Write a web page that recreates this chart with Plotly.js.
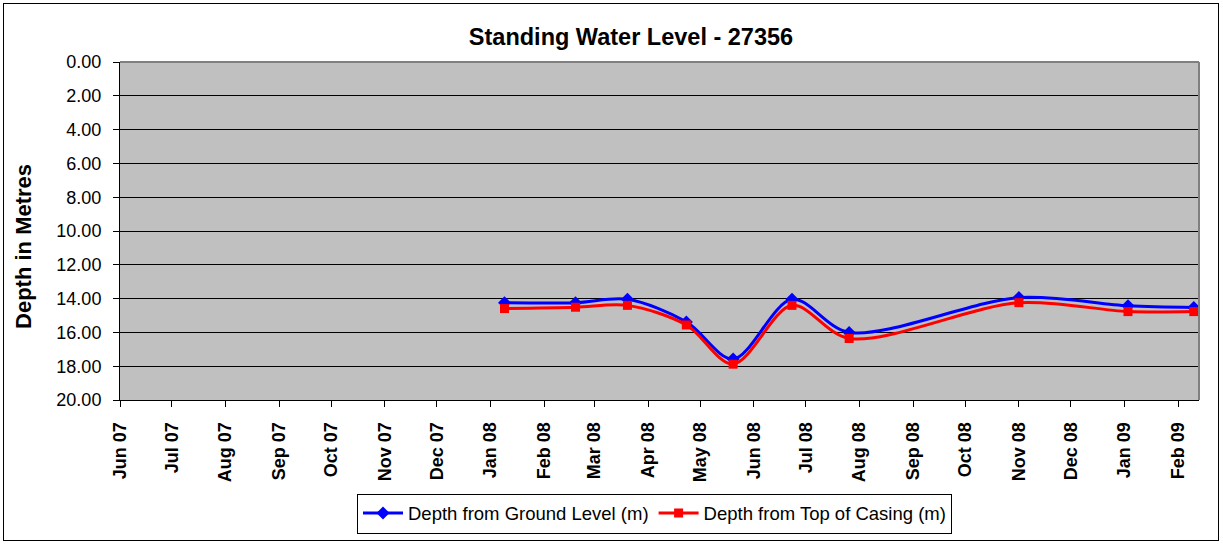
<!DOCTYPE html>
<html>
<head>
<meta charset="utf-8">
<script src="https://cdn.plot.ly/plotly-3.0.1.min.js"></script>
<style>
  html, body { margin: 0; padding: 0; background: #ffffff; }
  #wrap { position: relative; width: 1223px; height: 544px; }
  #chart { width: 1223px; height: 544px; }
  #frame { position: absolute; left: 3px; top: 3px; width: 1214px; height: 536px;
           border: 1px solid #000000; pointer-events: none; }
</style>
</head>
<body>
<div id="wrap">
  <div id="chart"></div>
  <div id="frame"></div>
</div>
<script>
// Sample dates (reading dates of the bore)
const sampleDates = ['2008-01-09', '2008-02-19', '2008-03-20', '2008-04-23', '2008-05-20',
                     '2008-06-23', '2008-07-26', '2008-11-01', '2009-01-03', '2009-02-10'];
// Depth from ground level (m)
const groundDepth = [14.24, 14.24, 14.04, 15.38, 17.58, 14.04, 16.00, 13.94, 14.43, 14.53];
// Depth from top of casing (m)
const casingDepth = [14.59, 14.51, 14.40, 15.56, 17.88, 14.40, 16.36, 14.24, 14.77, 14.77];

const seriesNames = ['Depth from Ground Level (m)', 'Depth from Top of Casing (m)'];
const yTickValues = [0, 2, 4, 6, 8, 10, 12, 14, 16, 18, 20];

const FONT = '"Liberation Sans", Arial, sans-serif';

const traces = [
  {
    x: sampleDates, y: groundDepth, name: seriesNames[0],
    type: 'scatter', mode: 'lines+markers',
    line: { color: '#0000FF', width: 3, shape: 'spline', smoothing: 0.9 },
    marker: { symbol: 'diamond', size: 10, color: '#0000FF' }
  },
  {
    x: sampleDates, y: casingDepth, name: seriesNames[1],
    type: 'scatter', mode: 'lines+markers',
    line: { color: '#FF0000', width: 3, shape: 'spline', smoothing: 0.9 },
    marker: { symbol: 'square', size: 9, color: '#FF0000' }
  }
];

const layout = {
  width: 1223, height: 544,
  margin: { l: 120, r: 24, t: 62, b: 143 },
  paper_bgcolor: '#FFFFFF',
  plot_bgcolor: '#C0C0C0',
  font: { family: FONT, color: '#000000' },
  title: {
    text: '<b>Standing Water Level - 27356</b>',
    font: { family: FONT, size: 23.5, color: '#000000' },
    xref: 'container', yref: 'container',
    x: 631 / 1223, xanchor: 'center',
    y: 1 - 37 / 544, yanchor: 'middle'
  },
  xaxis: {
    type: 'date',
    range: ['2007-06-01', '2009-02-13'],
    tick0: '2007-06-01', dtick: 'M1',
    tickformat: '%b %y', tickangle: -90,
    tickfont: { family: FONT, size: 18, weight: 'bold', color: '#000000' },
    ticks: 'outside', ticklen: 6, tickcolor: '#000000', tickwidth: 1,
    ticklabelstandoff: 8,
    showgrid: false, zeroline: false,
    showline: true, linecolor: '#000000', linewidth: 1
  },
  yaxis: {
    range: [20, 0],
    tickvals: yTickValues, tickformat: '.2f',
    tickfont: { family: FONT, size: 18, color: '#000000' },
    ticks: 'outside', ticklen: 6, tickcolor: '#000000', tickwidth: 1,
    ticklabelstandoff: 8,
    showgrid: true, gridcolor: '#000000', gridwidth: 1,
    zeroline: false,
    showline: true, linecolor: '#000000', linewidth: 1
  },
  annotations: [
    {
      text: '<b>Depth in Metres</b>',
      xref: 'paper', yref: 'paper',
      x: (24 - 120) / 1079, xanchor: 'center',
      y: (401 - 247.5) / 339, yanchor: 'middle',
      textangle: -90, showarrow: false,
      font: { family: FONT, size: 22, color: '#000000' }
    }
  ],
  showlegend: true,
  legend: {
    orientation: 'h',
    x: (654.5 - 120) / 1079, xanchor: 'center',
    y: (401 - 513.5) / 339, yanchor: 'middle',
    itemwidth: 40,
    bgcolor: '#FFFFFF', bordercolor: '#000000', borderwidth: 1,
    font: { family: FONT, size: 18.5, color: '#000000' }
  },
  shapes: [
    { type: 'line', xref: 'paper', yref: 'paper', x0: 0, x1: 1, y0: 1, y1: 1,
      line: { color: '#808080', width: 2 }, layer: 'above' },
    { type: 'line', xref: 'paper', yref: 'paper', x0: 1, x1: 1, y0: 0, y1: 1,
      line: { color: '#808080', width: 2 }, layer: 'above' }
  ]
};

Plotly.newPlot('chart', traces, layout, { displayModeBar: false, staticPlot: true });
</script>
</body>
</html>
